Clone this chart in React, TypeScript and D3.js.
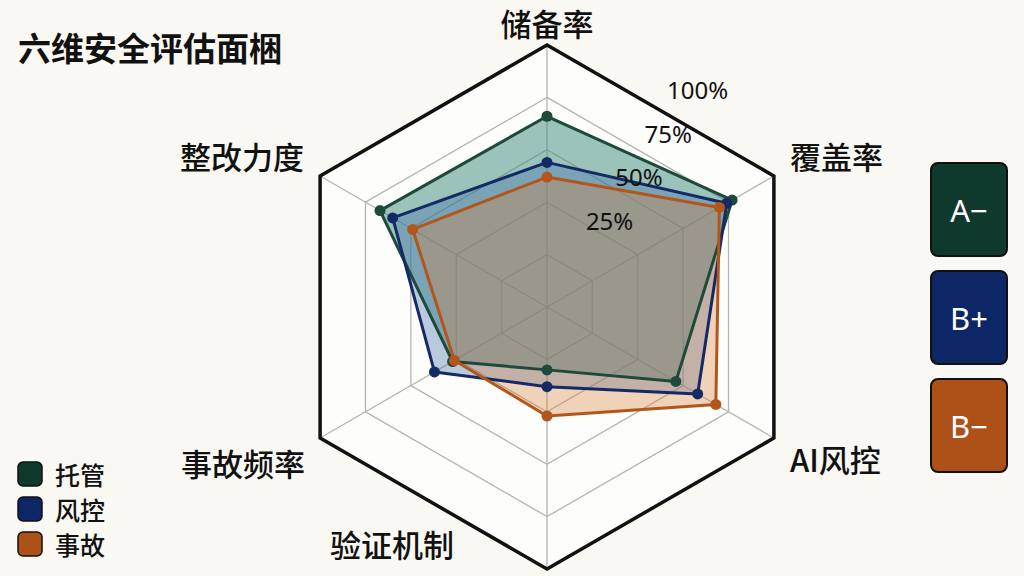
import * as d3 from 'd3';

// 六个维度（顺时针，从顶部开始）
const axes = ['储备率', '覆盖率', 'AI风控', '验证机制', '事故频率', '整改力度'];

// 各系列得分 (%)
const tuoguan = [66, 77, 46, 5, 27, 67];
const fengkong = [44, 74, 58, 13, 37, 60];
const shigu = [37, 70, 68, 27, 26, 49];

const seriesNames = ['托管', '风控', '事故'];
const grades = ['A−', 'B+', 'B−'];
const ringValues = [0, 25, 50, 75];
const tickValues = [25, 50, 75, 100];

const W = 1024;
const H = 576;
const cx = 547;
const cy = 307;
const R = 262;

const colors = ['#1d4a3b', '#142a66', '#b3561c'];
const fills = ['#3a8a78', '#3f6fae', '#d8803e'];
const fillOpacity = [0.5, 0.36, 0.35];
const badgeColors = ['#10392d', '#0d2666', '#ae5119'];

export default function App() {
  const series = [tuoguan, fengkong, shigu];

  const angle = d3.scaleLinear().domain([0, axes.length]).range([0, 2 * Math.PI]);
  const rScale = d3.scaleLinear().domain([0, 100]).range([0.2 * R, R]);

  const polar = (i: number, r: number): [number, number] => [
    r * Math.sin(angle(i)),
    -r * Math.cos(angle(i)),
  ];

  const radial = d3
    .lineRadial<number>()
    .angle((_, i) => angle(i))
    .radius((d) => rScale(d))
    .curve(d3.curveLinearClosed);

  const ringPath = (v: number) => radial(axes.map(() => v)) as string;

  const labelPos = (i: number) => {
    const [vx, vy] = polar(i, R);
    switch (i) {
      case 0:
        return { x: vx, y: vy - 23, anchor: 'middle' };
      case 1:
        return { x: vx + 16, y: vy - 21, anchor: 'start' };
      case 2:
        return { x: vx + 16, y: vy + 20, anchor: 'start' };
      case 3:
        return { x: vx - 155, y: vy - 26, anchor: 'middle' };
      case 4:
        return { x: vx - 15, y: vy + 24, anchor: 'end' };
      default:
        return { x: vx - 16, y: vy - 21, anchor: 'end' };
    }
  };

  const tickAngle = (34 * Math.PI) / 180;

  const font = '"Noto Sans CJK SC", "Noto Sans", sans-serif';

  return (
    <svg
      width={W}
      height={H}
      style={{ position: 'fixed', left: 0, top: 0, display: 'block', background: '#f9f8f3' }}
      fontFamily={font}
    >
      <rect x={0} y={0} width={W} height={H} fill="#f9f8f3" />

      {/* title */}
      <text x={18} y={47} fontSize={33} fontWeight={600} fill="#111" dominantBaseline="central">
        六维安全评估面梱
      </text>

      <g transform={`translate(${cx},${cy})`}>
        {/* radar background */}
        <path d={ringPath(100)} fill="#fdfdfb" stroke="none" />
        {ringValues.map((v) => (
          <path key={v} d={ringPath(v)} fill="none" stroke="#b4b4b4" strokeWidth={1.3} />
        ))}
        {axes.map((a, i) => {
          const [x2, y2] = polar(i, R);
          return <line key={a} x1={0} y1={0} x2={x2} y2={y2} stroke="#b4b4b4" strokeWidth={1.3} />;
        })}
        <path d={ringPath(100)} fill="none" stroke="#111" strokeWidth={3.5} strokeLinejoin="miter" />

        {/* series fills */}
        {series.map((s, k) => (
          <path key={`f${k}`} d={radial(s) as string} fill={fills[k]} fillOpacity={fillOpacity[k]} stroke="none" />
        ))}
        {/* series outlines and points */}
        {series.map((s, k) => (
          <g key={seriesNames[k]}>
            <path d={radial(s) as string} fill="none" stroke={colors[k]} strokeWidth={3} strokeLinejoin="round" />
            {s.map((v, i) => {
              const [px, py] = polar(i, rScale(v));
              return <circle key={i} cx={px} cy={py} r={5.5} fill={colors[k]} />;
            })}
          </g>
        ))}

        {/* tick labels */}
        {tickValues.map((v) => (
          <text
            key={v}
            x={rScale(v) * Math.sin(tickAngle) + 4}
            y={-rScale(v) * Math.cos(tickAngle)}
            fontSize={24}
            fill="#111"
            textAnchor="middle"
            dominantBaseline="central"
            fontFamily='"Noto Sans", sans-serif'
          >
            {v}%
          </text>
        ))}

        {/* axis labels */}
        {axes.map((a, i) => {
          const p = labelPos(i);
          return (
            <text
              key={a}
              x={p.x}
              y={p.y}
              fontSize={31}
              fontWeight={500}
              fill="#111"
              textAnchor={p.anchor}
              dominantBaseline="central"
            >
              {a}
            </text>
          );
        })}
      </g>

      {/* grade badges */}
      {grades.map((g, k) => (
        <g key={g} transform={`translate(931,${163 + k * 108})`}>
          <rect width={76} height={93} rx={7} fill={badgeColors[k]} stroke="#111" strokeWidth={2} />
          <text
            x={38}
            y={47}
            fontSize={31}
            fill="#fff"
            textAnchor="middle"
            dominantBaseline="central"
            fontFamily='"Noto Sans", sans-serif'
          >
            {g}
          </text>
        </g>
      ))}

      {/* legend */}
      {seriesNames.map((n, k) => (
        <g key={n} transform={`translate(18,${462 + k * 35})`}>
          <rect width={24} height={24} rx={5} fill={badgeColors[k]} stroke="#111" strokeWidth={1.5} />
          <text x={37} y={12} fontSize={25} fontWeight={500} fill="#111" dominantBaseline="central">
            {n}
          </text>
        </g>
      ))}
    </svg>
  );
}
